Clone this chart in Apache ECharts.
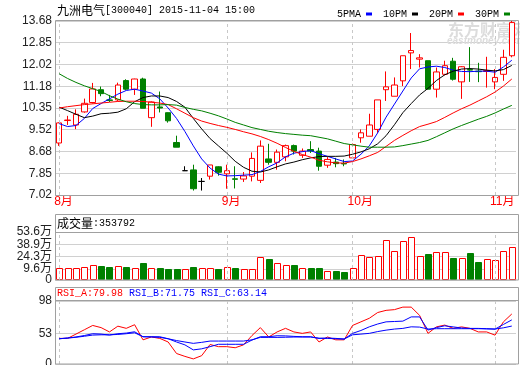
<!DOCTYPE html>
<html><head><meta charset="utf-8">
<script src="https://cdn.jsdelivr.net/npm/echarts@6/dist/echarts.min.js"></script>
<style>html,body{margin:0;padding:0;background:#fff}#c{width:520px;height:365px}</style>
</head><body><div id="c"></div>
<script>
// ---------------- data ----------------
const dates = [
 '2015-08-04','2015-08-05','2015-08-06','2015-08-07','2015-08-10','2015-08-11','2015-08-12','2015-08-13','2015-08-14','2015-08-17',
 '2015-08-18','2015-08-19','2015-08-20','2015-08-21','2015-08-24','2015-08-25','2015-08-26','2015-08-27','2015-08-28','2015-08-31',
 '2015-09-01','2015-09-02','2015-09-07','2015-09-08','2015-09-09','2015-09-10','2015-09-11','2015-09-14','2015-09-15','2015-09-16',
 '2015-09-17','2015-09-18','2015-09-21','2015-09-22','2015-09-23',
 '2015-10-08','2015-10-09','2015-10-12','2015-10-13','2015-10-14','2015-10-15','2015-10-16','2015-10-19','2015-10-20','2015-10-21',
 '2015-10-22','2015-10-23','2015-10-26','2015-10-27','2015-10-28','2015-10-29','2015-10-30',
 '2015-11-02','2015-11-03','2015-11-04'];
const openP  = [9.01,9.87,9.70,10.20,10.56,11.05,10.66,10.66,11.40,11.07, 11.46,9.98,10.39,10.17,9.03,7.95,7.98,7.54,7.74,8.10,
  7.83,7.64,7.63,7.74,7.58,8.40,8.27,8.48,8.91,8.54, 8.76,8.70,8.16,8.28,8.23,8.44,9.21,9.27,9.53,11.05,
  10.80,11.39,12.46,12.22,12.16,11.07,11.64,12.14,11.35,11.82, 11.76,11.75,11.35,11.64,12.35];
const closeP = [9.78,9.89,10.11,10.53,11.08,10.90,10.64,11.23,11.07,11.46, 10.34,10.58,10.35,9.86,8.85,7.95,7.26,7.54,8.17,7.89,
  7.95,7.62,7.75,8.42,8.89,8.27,8.66,8.91,8.70,8.70, 8.70,8.12,8.38,8.22,8.21,8.95,9.40,9.70,10.66,11.16,
  11.23,12.35,12.55,12.27,11.07,11.73,11.97,11.45,11.93,11.80, 11.74,11.78,11.52,12.29,13.62];
const lowP   = [8.90,9.70,9.54,10.17,10.52,10.80,10.58,10.62,11.03,10.85, 10.34,9.63,10.18,9.79,8.85,7.95,7.19,7.19,7.61,7.76,
  7.26,7.27,7.52,7.54,7.48,8.18,7.99,8.31,8.57,8.44, 8.63,7.95,8.06,8.08,8.12,8.44,9.02,9.27,9.40,10.62,
  10.80,11.19,11.84,11.90,11.07,10.75,11.60,11.40,10.70,11.35, 11.34,11.13,11.07,11.39,12.29];
const highP  = [9.80,10.05,10.30,10.71,11.31,11.17,10.85,11.32,11.45,11.47, 11.51,10.60,10.98,10.18,9.29,8.12,8.18,7.67,8.17,8.12,
  8.18,8.12,7.90,8.65,9.11,8.98,8.76,8.95,8.95,8.80, 9.08,8.83,8.47,8.44,8.38,8.99,9.53,10.13,10.66,11.75,
  11.52,12.35,13.22,12.41,12.16,11.90,12.16,12.27,11.95,12.68, 12.08,12.31,11.84,12.58,13.68];
// volume in 万股
const volume = [11.2,11.2,11.2,12.4,13.8,13.2,12.0,13.2,12.0,10.4, 16.0,10.4,10.8,9.6,9.6,9.6,12.0,10.4,10.4,9.6,
  12.0,10.8,9.6,9.6,23.7,21.7,16.8,14.0,14.4,10.4, 10.8,10.8,7.2,7.2,6.0,10.4,26.5,23.7,25.3,44.2,
  31.3,43.4,47.8,25.3,27.7,30.1,30.1,22.9,22.9,28.9, 17.2,21.7,20.1,31.3,35.3792];
const ma5  = [9.75,9.64,9.68,9.95,10.33,10.52,10.70,10.88,11.02,11.07, 11.00,10.92,10.70,10.35,9.95,9.45,8.90,8.40,8.05,7.82,
  7.75,7.76,7.78,7.80,7.92,8.10,8.25,8.48,8.62,8.68, 8.72,8.60,8.50,8.40,8.30,8.32,8.58,8.90,9.40,10.00,
  10.50,11.00,11.50,11.85,11.92,11.95,11.90,11.80,11.75,11.74, 11.76,11.76,11.72,11.92,12.18];
const ma10 = [10.38,10.25,10.11,9.98,10.04,10.13,10.15,10.19,10.32,10.59, 10.75,10.81,10.81,10.75,10.60,10.38,9.95,9.55,9.18,8.90,
  8.62,8.31,8.08,7.93,7.90,7.98,8.10,8.21,8.28,8.37, 8.44,8.49,8.50,8.50,8.51,8.58,8.67,8.79,8.98,9.29,
  9.71,10.17,10.52,10.85,11.10,11.40,11.62,11.76,11.84,11.86, 11.84,11.80,11.77,11.82,11.98];
const ma20 = [10.35,10.40,10.44,10.48,10.51,10.54,10.57,10.60,10.61,10.61, 10.60,10.57,10.54,10.48,10.32,10.15,9.98,9.85,9.76,9.68,
  9.61,9.53,9.44,9.36,9.26,9.14,9.00,8.84,8.69,8.57, 8.47,8.35,8.29,8.25,8.24,8.30,8.40,8.52,8.65,8.88,
  9.11,9.30,9.48,9.64,9.73,9.83,9.99,10.16,10.32,10.46, 10.62,10.78,10.96,11.19,11.46];
const ma30 = [11.66,11.48,11.33,11.20,11.09,10.98,10.82,10.69,10.59,10.52, 10.48,10.47,10.47,10.48,10.46,10.37,10.30,10.24,10.15,10.05,
  9.93,9.80,9.70,9.60,9.53,9.46,9.41,9.37,9.34,9.31, 9.29,9.23,9.17,9.08,8.99,8.94,8.89,8.85,8.85,8.85,
  8.86,8.91,8.97,9.03,9.11,9.25,9.40,9.55,9.68,9.80, 9.92,10.03,10.16,10.31,10.45];
const rsiA = [46,46,52,58,64,61,55,63,60,65, 44,48,46,41,25,21,17.5,22,37.5,34.5,
  34.5,33,37,50,61,48,55,60,55,53, 55,41,48,44,44,64,69,74,82,85,
  86,89.5,89.5,78,53,62,64.5,60,62,60, 55,55,50.5,69,79.98];
const rsiB = [45.5,46.5,48,50,52.5,52,50.6,52.5,53.4,55.2, 48.3,48.3,48.3,45.5,41,37,30,31.5,34.5,37.8,
  37.8,37.8,37.8,43.7,48.3,48.3,49.7,49.5,48.8,48.3, 48.3,46.1,46.5,46,45.1,53,57,62.1,66,69,
  69.5,70,75.9,75.9,57.6,61,63.5,62,60.5,59.9, 59.9,59.5,58.9,65.4,71.75];
const rsiC = [45.5,46.5,47.5,49,50.6,51,51,51.5,52.5,53.8, 48.3,48,47.4,45.5,43,41,39.1,40.5,42.3,42.3,
  42.3,42.3,42.3,44,47.4,47.4,47.4,47.6,47.9,47.9, 47.9,46.1,46,45.5,45.1,51,52,53,55.5,57.5,
  59,59.9,62.1,61.7,59,59.5,59.5,59.5,59.5,59.5, 59.5,59.2,59,60.7,63.14];
const priceTicks = [7.02,7.85,8.68,9.52,10.35,11.18,12.02,12.85,13.68];
const priceTickLabels = ['7.02','7.85','8.68','9.52','10.35','11.18','12.02','12.85','13.68'];
const volTicks = [-3.7,9.6,24.3,38.9,53.6];
const volTickLabels = ['0','9.6万','24.3万','38.9万','53.6万'];
const rsiTicks = [10.4,53,98];
const rsiTickLabels = ['0','53','98'];
const maNames = ['5PMA','10PM','20PM','30PM'];
const stockName = '九洲电气';
const stockInfo = '[300040] 2015-11-04 15:00';
const volTitle = '成交量';
const volValueText = ':353792';
const rsiHeaders = ['RSI_A:79.98','RSI_B:71.75','RSI_C:63.14'];

// ---------------- chart ----------------
const RED = '#ff0000', GREEN = '#008000', BLUE = '#0000ff';
const chart = echarts.init(document.getElementById('c'), null, {renderer: 'canvas'});
const candleData = dates.map((d, i) => [openP[i], closeP[i], lowP[i], highP[i]]);
const volData = dates.map((d, i) => [i, volume[i], closeP[i] >= openP[i] ? 1 : 0]);
const monthIdx = [];
dates.forEach((d, i) => { if (i === 0 || d.slice(5, 7) !== dates[i - 1].slice(5, 7)) monthIdx.push(i); });
const markLineCfg = {
  silent: true, symbol: ['none', 'none'], label: {show: false}, animation: false,
  lineStyle: {type: [3, 3], color: '#c8c8c8', width: 1},
  emphasis: {disabled: true},
  data: monthIdx.map(i => ({xAxis: i}))
};
const lab = (ticks, labels) => v => {
  for (let k = 0; k < ticks.length; k++) if (Math.abs(ticks[k] - v) < 1e-6) return labels[k];
  return '';
};
const gridPos = [{top: 21, height: 174}, {top: 232, height: 48}, {top: 301, height: 63}];
const LABEL_FONT = '"Liberation Sans","Noto Sans CJK SC"';
const tickFont = {color: '#222', fontSize: 12, fontFamily: LABEL_FONT, margin: 3,
  showMinLabel: true, showMaxLabel: true, hideOverlap: false};
function yAx(idx, ticks, labels, labelTicks) {
  return {
    type: 'value', gridIndex: idx, min: ticks[0], max: ticks[ticks.length - 1],
    axisLine: {show: false}, axisTick: {show: false, customValues: ticks},
    axisLabel: Object.assign({customValues: labelTicks || ticks, formatter: lab(ticks, labels)}, tickFont),
    splitLine: {show: true, lineStyle: {color: '#d0d0d0', width: 1}}
  };
}
const lineColors = [BLUE, '#000000', RED, GREEN];
const maData = [ma5, ma10, ma20, ma30];
const option = {
  animation: false,
  backgroundColor: '#fff',
  grid: gridPos.map(g => ({left: 55, right: 4, top: g.top, height: g.height, outerBoundsMode: 'none', containLabel: false})),
  legend: {
    data: maNames, right: 5, top: 4, align: 'right', icon: 'rect', itemWidth: 6, itemHeight: 3, itemGap: 11,
    selectedMode: false, textStyle: {fontFamily: '"Liberation Mono"', fontSize: 10, color: '#000'}
  },
  xAxis: [0, 1, 2].map(k => ({
    type: 'category', gridIndex: k, data: dates, boundaryGap: true,
    axisLine: {show: false}, axisTick: {show: false}, axisLabel: {show: false}, splitLine: {show: false}
  })),
  yAxis: [
    yAx(0, priceTicks, priceTickLabels),
    yAx(1, volTicks, volTickLabels, volTicks.slice(1)),
    yAx(2, rsiTicks, rsiTickLabels)
  ],
  series: [
    {
      type: 'candlestick', name: 'K', xAxisIndex: 0, yAxisIndex: 0, data: candleData, barWidth: 6, z: 3,
      itemStyle: {color: '#fff', color0: GREEN, borderColor: RED, borderColor0: GREEN, borderColorDoji: '#000', borderWidth: 1},
      markLine: markLineCfg
    },
    ...maNames.map((nm, k) => ({
      type: 'line', name: nm, xAxisIndex: 0, yAxisIndex: 0, data: maData[k], showSymbol: false, symbol: 'none', z: 5,
      lineStyle: {width: 1, color: lineColors[k]}, itemStyle: {color: lineColors[k]}
    })),
    {
      type: 'custom', name: 'VOL', xAxisIndex: 1, yAxisIndex: 1, data: volData, encode: {x: 0, y: 1}, z: 3,
      renderItem: (params, api) => {
        const idx = api.value(0), v = api.value(1), up = api.value(2);
        const p = api.coord([idx, v]);
        const b = api.coord([idx, volTicks[0]]);
        const w = 6;
        const x = Math.round(p[0] - w / 2) + 0.5, y = Math.round(p[1]) + 0.5;
        const h = Math.round(b[1]) - Math.round(p[1]) - 1;
        return {type: 'rect', shape: {x: x, y: y, width: w, height: h},
          style: up ? {fill: '#fff', stroke: RED, lineWidth: 1} : {fill: GREEN, stroke: GREEN, lineWidth: 1}};
      },
      markLine: markLineCfg
    },
    {type: 'line', name: 'RSI_A', xAxisIndex: 2, yAxisIndex: 2, data: rsiA, showSymbol: false, symbol: 'none', z: 5,
      lineStyle: {width: 1, color: RED}, markLine: markLineCfg},
    {type: 'line', name: 'RSI_B', xAxisIndex: 2, yAxisIndex: 2, data: rsiB, showSymbol: false, symbol: 'none', z: 5,
      lineStyle: {width: 1, color: BLUE}},
    {type: 'line', name: 'RSI_C', xAxisIndex: 2, yAxisIndex: 2, data: rsiC, showSymbol: false, symbol: 'none', z: 5,
      lineStyle: {width: 1, color: BLUE}}
  ]
};
chart.setOption(option);

const FRAME = '#a0a0a0';
const mono = '10px "Liberation Mono"';
const cjk = '12px "Noto Sans CJK SC"';
const g = [];
function txt(x, y, text, font, fill, extra, align) {
  g.push(Object.assign({type: 'text', x: x, y: y, silent: true, z: 60,
    style: {text: text, font: font, fill: fill, verticalAlign: 'middle', align: align || 'left'}}, extra || {}));
}
// watermark
txt(448, 30, '东方财富网', 'bold 16px "Noto Sans CJK SC"', '#dcdcdc', {z: 0});
txt(447, 41, 'eastmoney.com', 'italic bold 10px "Liberation Sans"', '#dcdcdc', {z: 0});
// title
txt(57, 10, stockName, cjk, '#000');
txt(57 + 48, 10, stockInfo, mono, '#000');
// volume header
txt(57, 223, volTitle, cjk, '#000');
txt(57 + 36, 223, volValueText, mono, '#000');
// bottom label of the volume axis (placed through the axis scale)
const vol0y = chart.convertToPixel({yAxisIndex: 1}, volTicks[0]);
txt(52, vol0y, volTickLabels[0], '12px ' + LABEL_FONT, '#222', null, 'right');
// rsi header
const rsiCols = [RED, BLUE, BLUE];
rsiHeaders.forEach((t, k) => txt(57 + k * 72, 293.5, t, mono, rsiCols[k]));
// month labels under main chart
monthIdx.forEach(i => {
  const x = chart.convertToPixel({xAxisIndex: 0}, i);
  txt(x - 5, 201.5, (+dates[i].slice(5, 7)) + '月', '12px ' + LABEL_FONT, RED);
});
// panel frames
[[20.5, 175], [214.5, 65.5], [287.5, 76.5]].forEach(f => {
  g.push({type: 'rect', silent: true, z: 100, shape: {x: 55.5, y: f[0], width: 463, height: f[1]},
    style: {fill: 'none', stroke: FRAME, lineWidth: 1}});
});
[232.5, 300.5].forEach(y => {
  g.push({type: 'line', silent: true, z: 100, shape: {x1: 55.5, y1: y, x2: 518.5, y2: y},
    style: {stroke: FRAME, lineWidth: 1}});
});
chart.setOption({graphic: g});
</script>
</body></html>
